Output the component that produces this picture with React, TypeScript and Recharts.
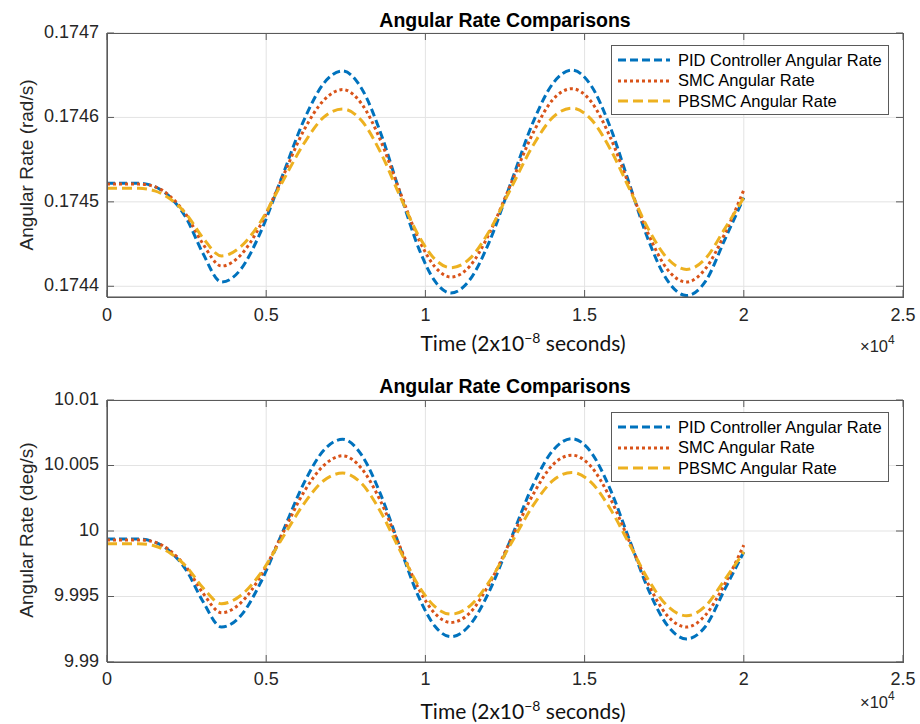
import React from "react";
import { LineChart, Line, XAxis, YAxis, CartesianGrid } from "recharts";

// ---- data (x in units of 10^4 samples) ----
const timeX = [0, 0.1, 0.15, 0.2, 0.25, 0.3, 0.36, 0.42, 0.48, 0.55, 0.62, 0.68, 0.74, 0.8, 0.86, 0.92, 0.98, 1.03, 1.08, 1.14, 1.2, 1.27, 1.34, 1.4, 1.46, 1.52, 1.58, 1.64, 1.7, 1.76, 1.82, 1.88, 1.94, 2.0];

const pidRad = [0.174522, 0.174522, 0.174518, 0.174505, 0.17448, 0.17444, 0.174405, 0.17442, 0.174462, 0.17453, 0.174598, 0.17464, 0.174655, 0.174634, 0.174581, 0.174511, 0.174444, 0.174406, 0.174392, 0.174408, 0.174452, 0.174524, 0.174596, 0.17464, 0.174656, 0.174638, 0.174589, 0.174522, 0.174455, 0.174407, 0.174389, 0.174406, 0.174455, 0.174505];
const smcRad = [0.174521, 0.174521, 0.174518, 0.174506, 0.174484, 0.174451, 0.174424, 0.174437, 0.174471, 0.174528, 0.174586, 0.17462, 0.174633, 0.174616, 0.174572, 0.174512, 0.174455, 0.174423, 0.174411, 0.174424, 0.174462, 0.1745225, 0.174583, 0.174621, 0.174634, 0.174619, 0.174577, 0.1745195, 0.174462, 0.17442, 0.174405, 0.174421, 0.174462, 0.174514];
const pbsmcRad = [0.174516, 0.174516, 0.174513, 0.174503, 0.174485, 0.174458, 0.174436, 0.174447, 0.174475, 0.174523, 0.17457, 0.1746, 0.17461, 0.174596, 0.174558, 0.174507, 0.174459, 0.174432, 0.174422, 0.174433, 0.174465, 0.174517, 0.174568, 0.1746, 0.174611, 0.174598, 0.174563, 0.174516, 0.174468, 0.174433, 0.17442, 0.174433, 0.174468, 0.174505];

const pidDeg = [9.99938, 9.99938, 9.99915, 9.9984, 9.99697, 9.99468, 9.99267, 9.99353, 9.99594, 9.99983, 10.00373, 10.00614, 10.007, 10.00579, 10.00276, 9.99875, 9.99491, 9.99273, 9.99193, 9.99284, 9.99536, 9.99949, 10.00362, 10.00614, 10.00705, 10.00602, 10.00321, 9.99938, 9.99554, 9.99279, 9.99176, 9.99273, 9.99554, 9.9984];
const smcDeg = [9.99932, 9.99932, 9.99915, 9.99846, 9.9972, 9.99531, 9.99376, 9.99451, 9.99645, 9.99972, 10.00304, 10.00499, 10.00574, 10.00476, 10.00224, 9.9988, 9.99554, 9.9937, 9.99302, 9.99376, 9.99594, 9.9994, 10.00287, 10.00505, 10.00579, 10.00493, 10.00253, 9.99923, 9.99594, 9.99353, 9.99267, 9.99359, 9.99594, 9.99892];
const pbsmcDeg = [9.99903, 9.99903, 9.99886, 9.99829, 9.99726, 9.99571, 9.99445, 9.99508, 9.99668, 9.99943, 10.00213, 10.00384, 10.00442, 10.00362, 10.00144, 9.99852, 9.99577, 9.99422, 9.99365, 9.99428, 9.99611, 9.99909, 10.00201, 10.00384, 10.00447, 10.00373, 10.00172, 9.99903, 9.99628, 9.99428, 9.99353, 9.99428, 9.99628, 9.9984];

const xTicks = [0, 0.5, 1, 1.5, 2, 2.5];
const xTickLabels = ["0", "0.5", "1", "1.5", "2", "2.5"];
const radTicks = [0.1744, 0.1745, 0.1746, 0.1747];
const radTickLabels = ["0.1744", "0.1745", "0.1746", "0.1747"];
const degTicks = [9.99, 9.995, 10, 10.005, 10.01];
const degTickLabels = ["9.99", "9.995", "10", "10.005", "10.01"];

const seriesNames = ["PID Controller Angular Rate", "SMC Angular Rate", "PBSMC Angular Rate"];
const seriesKeys = ["pid", "smc", "pbsmc"];

// ---- styles ----
const COLORS = ["#0072BD", "#D95319", "#EDB120"];
const DASHES = ["8 4", "3 3", "10 5"];
const AX = "#5a5a5a";
const TXT = "#262626";
const FONT = "'Liberation Sans', Arial, Helvetica, sans-serif";
const TICK_PX = 7;
const CHART_W = 920;
const Y_AXIS_W = 107;
const RIGHT_M = 17;
const PLOT_W = CHART_W - Y_AXIS_W - RIGHT_M;

const radData = timeX.map((x, i) => ({ x, pid: pidRad[i], smc: smcRad[i], pbsmc: pbsmcRad[i] }));
const degData = timeX.map((x, i) => ({ x, pid: pidDeg[i], smc: smcDeg[i], pbsmc: pbsmcDeg[i] }));

const labelFor = (ticks: number[], labels: string[], v: number) => {
  const idx = ticks.findIndex((t) => Math.abs(t - v) < 1e-9);
  return idx >= 0 ? labels[idx] : String(v);
};

// bottom tick: inward tick at bottom and mirrored tick at top
const makeBottomTick = (off: number, plotH: number) => (props: any) => {
  const { x, y, payload } = props;
  return (
    <g>
      <line x1={x} y1={y} x2={x} y2={y - TICK_PX} stroke={AX} strokeWidth={1} />
      <line x1={x} y1={y - plotH} x2={x} y2={y - plotH + TICK_PX} stroke={AX} strokeWidth={1} />
      <text x={x} y={y + off} textAnchor="middle" dominantBaseline="middle" fontSize={18} fontFamily={FONT} fill={TXT}>
        {labelFor(xTicks, xTickLabels, payload.value)}
      </text>
    </g>
  );
};

const makeLeftTick = (ticks: number[], labels: string[]) => (props: any) => {
  const { x, y, payload } = props;
  return (
    <g>
      <line x1={x} y1={y} x2={x + TICK_PX} y2={y} stroke={AX} strokeWidth={1} />
      <line x1={x + PLOT_W} y1={y} x2={x + PLOT_W - TICK_PX} y2={y} stroke={AX} strokeWidth={1} />
      <text x={x - 8} y={y} textAnchor="end" dominantBaseline="middle" fontSize={18} fontFamily={FONT} fill={TXT}>
        {labelFor(ticks, labels, payload.value)}
      </text>
    </g>
  );
};

type PanelProps = {
  data: any[];
  top: number;
  height: number;
  plotTop: number;
  xAxisHeight: number;
  domain: [number, number];
  yTicks: number[];
  yTickLabels: string[];
  yLabel: string;
  yLabelCenter: number;
  tickOff: number;
  xLabelTop: number;
  x10Top: number;
  titleTop: number;
  legendTop: number;
};

const Legend = ({ top }: { top: number }) => (
  <div
    style={{
      position: "absolute",
      left: 611,
      top,
      width: 278,
      height: 70,
      border: `1px solid ${AX}`,
      background: "#fff",
      boxSizing: "border-box",
      fontFamily: FONT,
      fontSize: 16.5,
      color: "#000",
    }}
  >
    {seriesNames.map((name, i) => (
      <div key={name} style={{ position: "absolute", left: 5, top: 4 + i * 20.7, height: 20, display: "flex", alignItems: "center", whiteSpace: "nowrap" }}>
        <svg width={54} height={10} style={{ marginRight: 7 }}>
          <line x1={1} y1={5} x2={53} y2={5} stroke={COLORS[i]} strokeWidth={3} strokeDasharray={DASHES[i]} />
        </svg>
        <span>{name}</span>
      </div>
    ))}
  </div>
);

const Panel = (p: PanelProps) => {
  const plotH = p.height - p.plotTop - p.xAxisHeight;
  return (
    <div style={{ position: "absolute", left: 0, top: p.top, width: CHART_W, height: p.height }}>
      <LineChart width={CHART_W} height={p.height} data={p.data} margin={{ top: p.plotTop, right: RIGHT_M, left: 0, bottom: 0 }}>
        <CartesianGrid stroke="#e3e3e3" strokeWidth={1} vertical={true} horizontal={true} />
        <XAxis
          dataKey="x"
          type="number"
          domain={[0, 2.5]}
          ticks={xTicks}
          interval={0}
          allowDataOverflow
          height={p.xAxisHeight}
          tickSize={0}
          tickMargin={0}
          tickLine={false}
          axisLine={{ stroke: AX, strokeWidth: 1.2 }}
          tick={makeBottomTick(p.tickOff, plotH)}
        />
        <YAxis
          type="number"
          domain={p.domain}
          ticks={p.yTicks}
          interval={0}
          allowDataOverflow
          width={Y_AXIS_W}
          tickSize={0}
          tickMargin={0}
          tickLine={false}
          axisLine={{ stroke: AX, strokeWidth: 1.2 }}
          tick={makeLeftTick(p.yTicks, p.yTickLabels)}
        />
        {seriesKeys.map((k, i) => (
          <Line
            key={k}
            dataKey={k}
            type="monotone"
            stroke={COLORS[i]}
            strokeWidth={3}
            strokeDasharray={DASHES[i]}
            dot={false}
            activeDot={false}
            isAnimationActive={false}
          />
        ))}
      </LineChart>
      {/* axes frame (MATLAB "box on") */}
      <div
        style={{
          position: "absolute",
          left: Y_AXIS_W - 0.5,
          top: p.plotTop - 0.5,
          width: PLOT_W + 1,
          height: plotH + 1,
          border: `1px solid ${AX}`,
          boxSizing: "border-box",
          pointerEvents: "none",
        }}
      />
      <div
        style={{
          position: "absolute",
          left: 505,
          top: p.titleTop,
          transform: "translate(-50%, -50%)",
          fontFamily: FONT,
          fontWeight: "bold",
          fontSize: 19.5,
          color: "#000",
          whiteSpace: "nowrap",
        }}
      >
        Angular Rate Comparisons
      </div>
      <div
        style={{
          position: "absolute",
          left: 27,
          top: p.yLabelCenter,
          transform: "translate(-50%, -50%) rotate(-90deg)",
          fontFamily: FONT,
          fontSize: 19,
          color: TXT,
          whiteSpace: "nowrap",
        }}
      >
        {p.yLabel}
      </div>
      <div
        style={{
          position: "absolute",
          left: 523,
          top: p.xLabelTop,
          transform: "translate(-50%, -50%)",
          fontFamily: "Lato, 'Open Sans', sans-serif",
          fontSize: 21,
          color: "#111",
          whiteSpace: "nowrap",
        }}
      >
        Time (2x10<sup style={{ fontSize: 14, verticalAlign: "0.55em", lineHeight: 0 }}>−8</sup> seconds)
      </div>
      <div
        style={{
          position: "absolute",
          left: 860,
          top: p.x10Top,
          transform: "translateY(-50%)",
          fontFamily: FONT,
          fontSize: 16.5,
          color: TXT,
          whiteSpace: "nowrap",
        }}
      >
        ×10<sup style={{ fontSize: 12, verticalAlign: "0.6em", lineHeight: 0 }}>4</sup>
      </div>
      <Legend top={p.legendTop} />
    </div>
  );
};

export default function App() {
  return (
    <div style={{ position: "absolute", left: 0, top: 0, width: 920, height: 724, background: "#fff", overflow: "hidden" }}>
      <Panel
        data={radData}
        top={0}
        height={362}
        plotTop={33}
        xAxisHeight={65}
        domain={[0.1743873, 0.1747]}
        yTicks={radTicks}
        yTickLabels={radTickLabels}
        yLabel="Angular Rate (rad/s)"
        yLabelCenter={165}
        tickOff={19}
        xLabelTop={342}
        x10Top={346}
        titleTop={20}
        legendTop={45}
      />
      <Panel
        data={degData}
        top={362}
        height={362}
        plotTop={38}
        xAxisHeight={62}
        domain={[9.99, 10.01]}
        yTicks={degTicks}
        yTickLabels={degTickLabels}
        yLabel="Angular Rate (deg/s)"
        yLabelCenter={168}
        tickOff={18}
        xLabelTop={348}
        x10Top={340}
        titleTop={24}
        legendTop={50}
      />
    </div>
  );
}
